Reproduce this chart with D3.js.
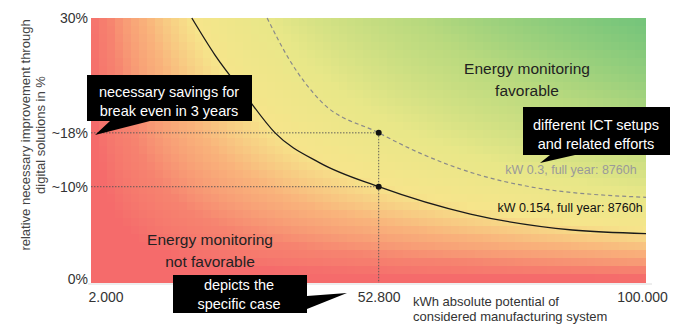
<!DOCTYPE html>
<html>
<head>
<meta charset="utf-8">
<script src="https://cdn.jsdelivr.net/npm/d3@7"></script>
<style>
  body { margin: 0; background: #fff; }
  svg { font-family: "Liberation Sans", Arial, sans-serif; }
</style>
</head>
<body>
<script>
var w = 673;
var h = 325;

// tick values / labels
var xTicks = [2000, 52800, 100000];
var xTickLabels = ["2.000", "52.800", "100.000"];
var yTicks = [0, 10.9, 17, 30];
var yTickLabels = ["0%", "~10%", "~18%", "30%"];

// break-even curves (kWh, % improvement)
var solidX = [19800, 23900, 29200, 34500, 42400, 52800, 69000, 87000, 100000];
var solidY = [30, 25.8, 21.3, 17.0, 13.6, 10.9, 7.8, 6.0, 5.6];
var dashedX = [33100, 37100, 42400, 52800, 60100, 70700, 79500, 100000];
var dashedY = [30, 25.2, 20.7, 17.0, 14.7, 12.2, 10.9, 9.7];

// the specific case
var caseX = 52800;
var caseY = [17, 10.9];

var svg = d3.select("body").append("svg")
    .attr("width", w)
    .attr("height", h);

var x = d3.scaleLinear().domain([2000, 100000]).range([91, 646]);
var y = d3.scaleLinear().domain([0, 30]).range([283, 18]);

// background: colour follows kWh * % (same shape as the curves)
var bgColor = d3.scaleLinear()
    .domain([4.7, 5.2, 5.55, 5.78, 6.0, 6.25, 6.5])
    .range(["#f56b6b", "#f6836f", "#f9b37b", "#f6e58b", "#e8e788", "#b8d97e", "#6cc27a"])
    .clamp(true);

var cell = 8;
var cells = [];
d3.range(91, 646, cell).forEach(function(px) {
    d3.range(18, 283, cell).forEach(function(py) {
        cells.push([px, py]);
    });
});

svg.append("g").selectAll("rect")
    .data(cells)
    .enter().append("rect")
    .attr("x", function(d) { return d[0]; })
    .attr("y", function(d) { return d[1]; })
    .attr("width", function(d) { return Math.min(cell, 646 - d[0]); })
    .attr("height", function(d) { return Math.min(cell, 283 - d[1]); })
    .attr("shape-rendering", "crispEdges")
    .attr("fill", function(d) {
        var vx = x.invert(d[0] + cell / 2);
        var vy = y.invert(d[1] + cell / 2);
        var v = vx * vy;
        return bgColor(v > 1 ? Math.log10(v) : 0);
    });

// thin base line under plot
svg.append("line")
    .attr("x1", 88).attr("x2", 652)
    .attr("y1", 284).attr("y2", 284)
    .attr("stroke", "#dcdcdc");

// guide lines for the specific case
caseY.forEach(function(v) {
    svg.append("line")
        .attr("x1", x(2000)).attr("x2", x(caseX))
        .attr("y1", y(v)).attr("y2", y(v))
        .attr("stroke", "#555")
        .attr("stroke-width", 0.9)
        .attr("stroke-dasharray", "1.5,1.5");
});
svg.append("line")
    .attr("x1", x(caseX)).attr("x2", x(caseX))
    .attr("y1", y(caseY[0])).attr("y2", y(0))
    .attr("stroke", "#555")
    .attr("stroke-width", 0.9)
    .attr("stroke-dasharray", "1.5,1.5");

var line = d3.line()
    .x(function(d) { return x(d[0]); })
    .y(function(d) { return y(d[1]); })
    .curve(d3.curveMonotoneX);

svg.append("path")
    .datum(d3.zip(dashedX, dashedY))
    .attr("d", line)
    .attr("fill", "none")
    .attr("stroke", "#8a8a8a")
    .attr("stroke-width", 1.2)
    .attr("stroke-dasharray", "4,3");

svg.append("path")
    .datum(d3.zip(solidX, solidY))
    .attr("d", line)
    .attr("fill", "none")
    .attr("stroke", "#1a1a1a")
    .attr("stroke-width", 1.3);

svg.selectAll("circle.case")
    .data(caseY)
    .enter().append("circle")
    .attr("class", "case")
    .attr("cx", x(caseX))
    .attr("cy", function(d) { return y(d); })
    .attr("r", 3)
    .attr("fill", "#111");

// axes
var yAxis = svg.append("g")
    .attr("transform", "translate(89,0)")
    .call(d3.axisLeft(y).tickValues(yTicks).tickSize(0)
        .tickFormat(function(d, i) { return yTickLabels[i]; }));
yAxis.select(".domain").remove();
yAxis.selectAll("text")
    .attr("font-size", 14)
    .attr("font-family", "Liberation Sans, Arial, sans-serif")
    .attr("fill", "#333")
    .attr("dx", 2)
    .attr("dy", function(d) { return d === 0 ? "0.02em" : "0.32em"; });

var xAxis = svg.append("g")
    .attr("transform", "translate(0,289)")
    .call(d3.axisBottom(x).tickValues(xTicks).tickSize(0)
        .tickFormat(function(d, i) { return xTickLabels[i]; }));
xAxis.select(".domain").remove();
xAxis.selectAll("text")
    .attr("font-size", 14)
    .attr("font-family", "Liberation Sans, Arial, sans-serif")
    .attr("fill", "#333")
    .attr("text-anchor", function(d, i) { return i === 0 ? "start" : "middle"; })
    .attr("dx", function(d, i) { return i === 0 ? -3 : (i === 2 ? -4 : 0); });

// axis titles
var yTitle = svg.append("text")
    .attr("transform", "translate(30,135) rotate(-90)")
    .attr("text-anchor", "middle")
    .attr("font-size", 13)
    .attr("fill", "#444");
yTitle.append("tspan").attr("x", 0).attr("y", 0).text("relative necessary improvement through");
yTitle.append("tspan").attr("x", 0).attr("y", 15).text("digital solutions in %");

var xTitle = svg.append("text")
    .attr("font-size", 13)
    .attr("fill", "#333");
xTitle.append("tspan").attr("x", 413).attr("y", 306).text("kWh absolute potential of");
xTitle.append("tspan").attr("x", 413).attr("y", 321).text("considered manufacturing system");

// region labels
function label(lines, cx, y0, size, color) {
    var t = svg.append("text")
        .attr("text-anchor", "middle")
        .attr("font-size", size)
        .attr("fill", color);
    lines.forEach(function(s, i) {
        t.append("tspan").attr("x", cx).attr("y", y0 + i * 22).text(s);
    });
}
label(["Energy monitoring", "favorable"], 527, 74, 15.5, "#222");
label(["Energy monitoring", "not favorable"], 210, 245, 15.5, "#222");

svg.append("text")
    .attr("x", 571).attr("y", 174)
    .attr("text-anchor", "middle")
    .attr("font-size", 12.5)
    .attr("fill", "#9a9a9a")
    .text("kW 0.3, full year: 8760h");
svg.append("text")
    .attr("x", 570).attr("y", 212)
    .attr("text-anchor", "middle")
    .attr("font-size", 12.5)
    .attr("fill", "#111")
    .text("kW 0.154, full year: 8760h");

// callouts
function callout(pts, lines, cx, y0) {
    svg.append("path")
        .attr("d", "M" + pts.join("L") + "Z")
        .attr("fill", "#000");
    var t = svg.append("text")
        .attr("text-anchor", "middle")
        .attr("font-size", 14.5)
        .attr("fill", "#fff");
    lines.forEach(function(s, i) {
        t.append("tspan").attr("x", cx).attr("y", y0 + i * 19).text(s);
    });
}
callout([[87, 75], [252, 75], [252, 121], [150, 121], [95, 135], [110, 121], [87, 121]],
    ["necessary savings for", "break even in 3 years"], 169, 97);
callout([[523, 107], [670, 107], [670, 155], [575, 155], [540, 163], [550, 155], [523, 155]],
    ["different ICT setups", "and related efforts"], 596, 130);
callout([[173, 275], [307, 275], [307, 296], [347, 293], [307, 309], [307, 313], [173, 313]],
    ["depicts the", "specific case"], 239, 290);
</script>
</body>
</html>
